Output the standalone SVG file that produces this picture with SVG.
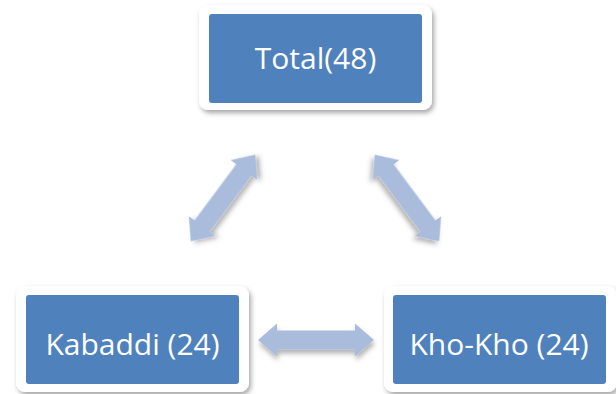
<svg xmlns="http://www.w3.org/2000/svg" width="616" height="394" viewBox="0 0 616 394">
<defs>
<filter id="sh" x="-10%" y="-10%" width="125%" height="130%">
<feDropShadow dx="2" dy="3" stdDeviation="2.5" flood-color="#000" flood-opacity="0.35"/>
</filter>
<filter id="ash" x="-20%" y="-30%" width="140%" height="170%">
<feDropShadow dx="1" dy="4" stdDeviation="2.5" flood-color="#000" flood-opacity="0.3"/>
</filter>
</defs>
<style>
.frame{fill:#ffffff;filter:url(#sh)}
.box{fill:#4F81BD}
.lbl{font-family:"Open Sans","Liberation Sans",sans-serif;font-size:30px;fill:#ffffff;text-anchor:middle}
.arr{fill:#AABCDC;filter:url(#ash)}
</style>
<rect width="616" height="394" fill="#ffffff"/>
<g id="connectors">
<path class="arr" transform="translate(316,340)" d="M-58 0 L-39 -16.5 L-39 -9.5 L39 -9.5 L39 -16.5 L58 0 L39 16.5 L39 9.5 L-39 9.5 L-39 16.5 Z"/>
<path class="arr" transform="translate(223,198) rotate(-53.3)" d="M-54 0 L-35 -16.5 L-35 -9.5 L35 -9.5 L35 -16.5 L54 0 L35 16.5 L35 9.5 L-35 9.5 L-35 16.5 Z"/>
<path class="arr" transform="translate(407,198) rotate(53.3)" d="M-54 0 L-35 -16.5 L-35 -9.5 L35 -9.5 L35 -16.5 L54 0 L35 16.5 L35 9.5 L-35 9.5 L-35 16.5 Z"/>
</g>
<g id="total">
<rect class="frame" x="199" y="5" width="233" height="105" rx="9"/>
<rect class="box" x="209" y="14" width="213" height="89" rx="3"/>
<text class="lbl" x="315.5" y="69">Total(48)</text>
</g>
<g id="kabaddi">
<rect class="frame" x="16" y="286" width="233" height="106" rx="9"/>
<rect class="box" x="26" y="295" width="213" height="89" rx="3"/>
<text class="lbl" x="132.5" y="355">Kabaddi (24)</text>
</g>
<g id="khokho">
<rect class="frame" x="384" y="286" width="233" height="106" rx="9"/>
<rect class="box" x="393" y="295" width="213" height="89" rx="3"/>
<text class="lbl" x="499" y="355">Kho-Kho (24)</text>
</g>
</svg>
